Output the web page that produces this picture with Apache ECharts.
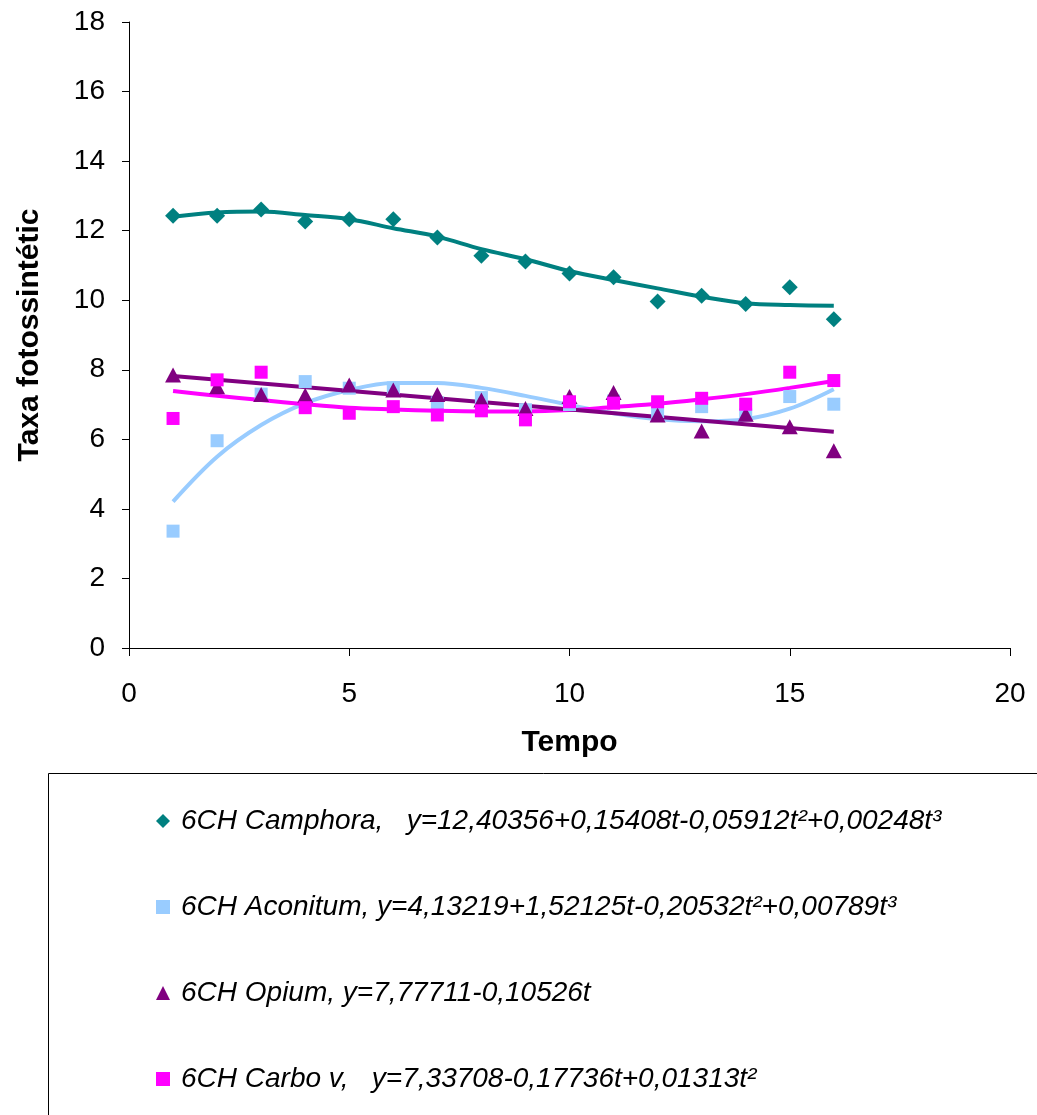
<!DOCTYPE html>
<html>
<head>
<meta charset="utf-8">
<script src="https://cdn.jsdelivr.net/npm/echarts@6/dist/echarts.min.js"></script>
<style>
html,body{margin:0;padding:0;background:#fff;}
#chart{width:1037px;height:1115px;}
</style>
</head>
<body>
<div id="chart"></div>
<script>
// ---- data ----
const tempo = [1,2,3,4,5,6,7,8,9,10,11,12,13,14,15,16];

const seriesNames = [
  '6CH Camphora,   y=12,40356+0,15408t-0,05912t\u00B2+0,00248t\u00B3',
  '6CH Aconitum, y=4,13219+1,52125t-0,20532t\u00B2+0,00789t\u00B3',
  '6CH Opium, y=7,77711-0,10526t',
  '6CH Carbo v,   y=7,33708-0,17736t+0,01313t\u00B2'
];

const camphora = [12.43,12.43,12.61,12.26,12.33,12.33,11.80,11.28,11.11,10.77,10.66,9.96,10.13,9.89,10.37,9.45];
const aconitum = [3.36,5.96,7.30,7.66,7.47,7.48,7.05,7.20,6.85,7.00,7.10,6.80,6.94,6.70,7.23,7.01];
const opium    = [7.85,7.51,7.29,7.27,7.56,7.42,7.29,7.13,6.89,7.23,7.35,6.70,6.24,6.72,6.36,5.67];
const carbo    = [6.60,7.71,7.93,6.91,6.75,6.94,6.70,6.82,6.56,7.08,7.04,7.08,7.18,7.01,7.93,7.69];

// trend lines at each tempo
const camphoraFit = [12.40,12.52,12.55,12.45,12.33,12.07,11.83,11.47,11.18,10.84,10.58,10.34,10.10,9.91,9.86,9.84];
const aconitumFit = [4.21,5.50,6.41,7.04,7.42,7.62,7.62,7.48,7.25,6.99,6.75,6.58,6.52,6.58,6.88,7.44];
const carboFit    = [7.39,7.25,7.13,7.01,6.91,6.86,6.82,6.80,6.80,6.84,6.93,7.02,7.15,7.30,7.48,7.68];
const opiumFitX   = [1,16];
const opiumFit    = [7.82,6.22];

const xTicks = [0,5,10,15,20];
const yTicks = [0,2,4,6,8,10,12,14,16,18];

// ---- chart ----
const colors = ['#008080','#99CCFF','#800080','#FF00FF'];
const symbols = ['diamond','rect','triangle','rect'];
const symbolSizes = [[16,16],13,[16,15],13];
const FONT = '"Liberation Sans", Arial, sans-serif';

function pairs(xs, ys){ return xs.map((x,i)=>[x, ys[i]]); }

const pointSets = [camphora, aconitum, opium, carbo];
const fitSets = [
  {x: tempo, y: camphoraFit, c: 0, z: 2},
  {x: tempo, y: aconitumFit, c: 1, z: 2},
  {x: tempo, y: carboFit, c: 3, z: 3},
  {x: opiumFitX, y: opiumFit, c: 2, z: 4}
];

const series = [];
fitSets.forEach(f => {
  series.push({
    type: 'line',
    data: pairs(f.x, f.y),
    smooth: 0.35,
    showSymbol: false,
    silent: true,
    z: f.z,
    lineStyle: {color: colors[f.c], width: 4},
    itemStyle: {color: colors[f.c]}
  });
});
pointSets.forEach((d, i) => {
  series.push({
    name: seriesNames[i],
    type: 'scatter',
    data: pairs(tempo, d),
    symbol: symbols[i],
    symbolSize: symbolSizes[i],
    z: 10 + i,
    itemStyle: {color: colors[i], opacity: 1}
  });
});

const chart = echarts.init(document.getElementById('chart'), null, {renderer: 'canvas'});
chart.setOption({
  animation: false,
  backgroundColor: '#fff',
  grid: {left: 129, top: 22, width: 881, height: 626, containLabel: false},
  xAxis: {
    type: 'value',
    min: xTicks[0], max: xTicks[xTicks.length-1], interval: 5,
    name: 'Tempo', nameLocation: 'middle', nameGap: 80,
    nameTextStyle: {fontFamily: FONT, fontWeight: 'bold', fontSize: 30, color: '#000'},
    axisLine: {show: true, onZero: false, lineStyle: {color: '#000', width: 1}},
    axisTick: {show: true, length: 8, inside: false, lineStyle: {color: '#000'}},
    splitLine: {show: false},
    axisLabel: {fontFamily: FONT, fontSize: 28, color: '#000', margin: 32}
  },
  yAxis: {
    type: 'value',
    min: yTicks[0], max: yTicks[yTicks.length-1], interval: 2,
    name: 'Taxa fotossintétic', nameLocation: 'middle', nameGap: 84,
    nameTextStyle: {fontFamily: FONT, fontWeight: 'bold', fontSize: 30, color: '#000'},
    axisLine: {show: true, onZero: false, lineStyle: {color: '#000', width: 1}},
    axisTick: {show: true, length: 7, inside: false, lineStyle: {color: '#000'}},
    splitLine: {show: false},
    axisLabel: {fontFamily: FONT, fontSize: 28, color: '#000', margin: 24}
  },
  legend: {
    orient: 'vertical',
    left: 156, top: 807,
    padding: 0,
    itemGap: 58,
    itemWidth: 14, itemHeight: 14,
    data: seriesNames.map((n, i) => ({name: n, icon: symbols[i]})),
    textStyle: {fontFamily: FONT, fontStyle: 'italic', fontSize: 28, color: '#000', padding: [0,0,0,6]},
    selectedMode: false
  },
  graphic: [{
    type: 'rect',
    shape: {x: 48.5, y: 773.5, width: 1100, height: 500},
    style: {fill: 'none', stroke: '#000', lineWidth: 1},
    silent: true, z: -1
  }],
  series: series
});
</script>
</body>
</html>
